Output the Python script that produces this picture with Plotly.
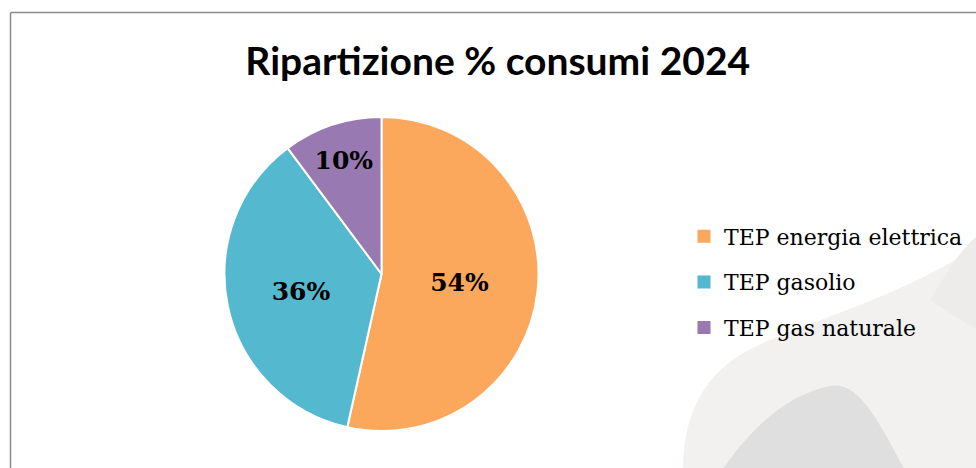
import plotly.graph_objects as go

# Data
categories = ["TEP energia elettrica", "TEP gasolio", "TEP gas naturale"]
shares = [53.5, 36.3, 10.2]
colors = ["#FBA85C", "#54B8CF", "#9879B1"]
title_text = "Ripartizione % consumi 2024"

W, H = 976, 468


def px_path(points_cmds):
    """Convert a pixel-space path description into paper coordinates."""
    out = []
    for tok in points_cmds:
        if isinstance(tok, str):
            out.append(tok)
        else:
            x, y = tok
            out.append(f"{x / W:.4f},{1 - y / H:.4f}")
    return " ".join(out)


fig = go.Figure()

fig.add_trace(go.Pie(
    labels=categories,
    values=shares,
    sort=False,
    direction="clockwise",
    rotation=0,
    marker=dict(colors=colors, line=dict(color="white", width=2)),
    textinfo="percent",
    texttemplate="%{percent:.0%}",
    textposition="inside",
    insidetextorientation="horizontal",
    textfont=dict(family="DejaVu Serif", size=25, color="black", weight="bold"),
    domain=dict(x=[224 / W, 539 / W], y=[1 - 431 / H, 1 - 117 / H]),
    showlegend=False,
    hoverinfo="label+percent",
))

# Legend entries (one group per category for spacing)
for name, col in zip(categories, colors):
    fig.add_trace(go.Scatter(
        x=[None], y=[None], mode="markers", name=name,
        legendgroup=name,
        marker=dict(symbol="square", size=13, color=col),
    ))

# faint background watermark and chart border
shapes = [
    dict(type="path", xref="paper", yref="paper", layer="below",
         path=px_path(["M", (683, 470), "C", (683, 420), (700, 380), (740, 355), "C",
                       (790, 325), (900, 300), (978, 245), "L", (978, 470), "Z"]),
         fillcolor="#F3F0F0", line=dict(width=0)),
    dict(type="path", xref="paper", yref="paper", layer="below",
         path=px_path(["M", (722, 470), "C", (750, 430), (785, 395), (830, 386), "C",
                       (860, 380), (880, 425), (905, 470), "Z"]),
         fillcolor="#E0DFDF", line=dict(width=0)),
    dict(type="path", xref="paper", yref="paper", layer="below",
         path=px_path(["M", (930, 300), "C", (945, 275), (960, 250), (978, 235),
                       "L", (978, 330), "C", (960, 320), (945, 310), (930, 300), "Z"]),
         fillcolor="#EEEBEB", line=dict(width=0)),
    dict(type="line", xref="paper", yref="paper", x0=10.5 / W, x1=1.01, y0=1 - 12.5 / H, y1=1 - 12.5 / H,
         line=dict(color="#8C8C8C", width=1.5)),
    dict(type="line", xref="paper", yref="paper", x0=10.5 / W, x1=10.5 / W, y0=-0.01, y1=1 - 12.5 / H,
         line=dict(color="#8C8C8C", width=1.5)),
]

fig.update_layout(
    width=W, height=H,
    margin=dict(l=0, r=0, t=0, b=0),
    paper_bgcolor="white",
    plot_bgcolor="rgba(0,0,0,0)",
    title=dict(text=title_text, x=0.51, xanchor="center", y=1 - 61 / H, yanchor="middle",
               font=dict(family="Lato", size=39, color="black", weight="bold")),
    xaxis=dict(visible=False),
    yaxis=dict(visible=False),
    legend=dict(x=684 / W, xanchor="left", y=1 - 282 / H, yanchor="middle",
                font=dict(family="DejaVu Serif", size=22, color="black"),
                tracegroupgap=14, bgcolor="rgba(0,0,0,0)", itemclick=False),
    shapes=shapes,
)

fig.write_html("out.html", config={"displayModeBar": False},
               post_script="document.body.style.margin='0px';")
